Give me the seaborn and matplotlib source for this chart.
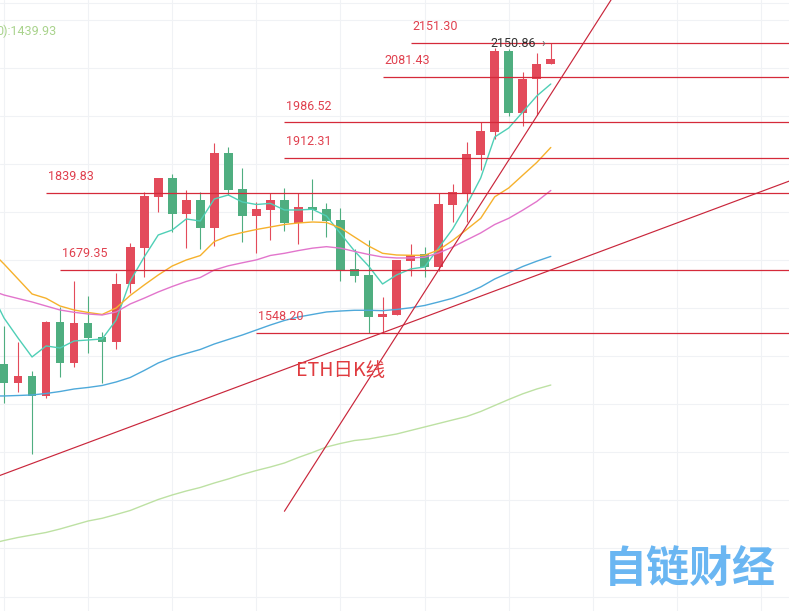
"""
ETH daily candles with moving averages, support/resistance levels and trend lines
"""

import numpy as np
import pandas as pd
import seaborn as sns
import matplotlib.pyplot as plt

# daily OHLC (index 0 = leftmost visible candle)
opens = [1483.7, 1444.8, 1458.8, 1417.8, 1571.1, 1486.4, 1569.6, 1539.9, 1528.9, 1650.1,
         1725.6, 1831.7, 1869.9, 1795.1, 1824.8, 1765.9, 1921.9, 1847.0, 1792.1, 1804.0,
         1824.8, 1776.3, 1809.6, 1805.5, 1783.2, 1681.3, 1668.8, 1582.1, 1585.6, 1698.6,
         1711.9, 1686.1, 1815.4, 1838.7, 1919.2, 1966.8, 2134.7, 2006.4, 2075.8, 2107.0]
highs = [1562.8, 1530.1, 1469.2, 1573.2, 1602.9, 1657.0, 1625.1, 1550.3, 1672.4, 1734.7,
         1842.1, 1869.9, 1878.2, 1845.6, 1842.1, 1942.7, 1934.4, 1890.7, 1820.6, 1838.7,
         1849.1, 1840.0, 1867.8, 1817.9, 1807.5, 1722.9, 1741.6, 1622.4, 1700.0, 1732.7,
         1727.0, 1840.0, 1858.7, 1944.8, 1986.4, 2140.3, 2138.2, 2091.6, 2129.9, 2150.86]
lows = [1402.0, 1426.1, 1295.9, 1412.4, 1457.3, 1476.9, 1507.2, 1443.6, 1514.3, 1630.8,
        1665.3, 1800.5, 1758.9, 1725.6, 1722.3, 1729.1, 1835.2, 1736.4, 1713.5, 1741.6,
        1760.3, 1733.3, 1783.2, 1747.2, 1657.0, 1653.6, 1548.2, 1549.0, 1585.6, 1667.4,
        1663.6, 1677.8, 1779.7, 1778.4, 1886.6, 1951.7, 1999.5, 1978.7, 2001.6, 2107.0]
closes = [1444.8, 1458.8, 1417.8, 1571.1, 1486.4, 1569.6, 1538.4, 1528.9, 1650.1, 1727.7,
          1833.1, 1869.9, 1795.1, 1824.8, 1765.9, 1921.9, 1845.6, 1792.1, 1805.5, 1824.2,
          1776.3, 1809.6, 1804.0, 1781.7, 1679.2, 1667.4, 1582.1, 1587.7, 1700.0, 1710.4,
          1686.1, 1816.5, 1841.0, 1920.5, 1968.3, 2134.7, 2006.4, 2075.8, 2107.6, 2117.4]

# moving averages, starting one candle left of the visible window
ma_idx = list(range(-1, 40))
ma5 = [1637.6, 1579.4, 1537.8, 1498.3, 1521.2, 1517.0, 1531.6, 1533.6, 1535.7, 1575.2,
       1656.3, 1706.2, 1752.0, 1762.4, 1785.3, 1781.1, 1826.9, 1835.2, 1820.6, 1815.4,
       1817.7, 1804.0, 1804.0, 1805.5, 1791.5, 1755.1, 1718.7, 1687.5, 1650.1, 1668.8,
       1681.3, 1685.5, 1725.0, 1764.5, 1814.4, 1870.5, 1955.8, 1974.5, 2007.8, 2041.1,
       2066.0]
ma10 = [1720.8, 1691.7, 1660.5, 1629.3, 1620.4, 1604.3, 1596.0, 1590.8, 1586.7, 1600.2,
        1626.2, 1648.0, 1668.8, 1687.5, 1700.0, 1709.2, 1738.3, 1749.9, 1757.2, 1763.4,
        1768.6, 1773.8, 1777.0, 1779.0, 1778.0, 1766.6, 1747.8, 1729.1, 1713.9, 1710.4,
        1709.8, 1709.8, 1720.8, 1740.6, 1763.4, 1786.7, 1831.4, 1849.8, 1876.4, 1902.8,
        1934.0]
ma20 = [1637.6, 1627.2, 1619.9, 1612.7, 1604.3, 1596.0, 1591.2, 1587.7, 1585.6, 1591.9,
        1608.5, 1620.6, 1633.5, 1644.9, 1655.3, 1663.6, 1679.2, 1687.9, 1694.2, 1700.2,
        1709.4, 1713.9, 1719.6, 1724.6, 1727.7, 1724.6, 1717.9, 1711.5, 1706.2, 1704.2,
        1704.2, 1705.8, 1714.6, 1727.0, 1741.6, 1756.2, 1773.8, 1786.7, 1803.6, 1821.7,
        1844.6]
ma60 = [1417.2, 1417.2, 1418.2, 1419.3, 1422.4, 1426.5, 1431.7, 1434.9, 1439.0, 1446.3,
        1455.6, 1470.2, 1485.8, 1497.2, 1505.6, 1513.9, 1525.3, 1534.7, 1544.0, 1554.4,
        1564.8, 1574.2, 1581.5, 1586.7, 1591.9, 1593.9, 1595.4, 1595.4, 1594.6, 1597.1,
        1600.6, 1605.4, 1612.7, 1620.4, 1631.0, 1643.9, 1660.5, 1673.4, 1686.5, 1697.5,
        1707.5]
ma120 = [1109.4, 1116.6, 1122.9, 1128.1, 1133.3, 1140.6, 1148.9, 1157.2, 1162.8, 1170.7,
         1179.0, 1190.5, 1201.9, 1211.3, 1219.6, 1226.9, 1236.2, 1244.6, 1253.9, 1262.2,
         1269.5, 1277.8, 1289.3, 1299.7, 1311.1, 1318.4, 1324.6, 1327.7, 1332.9, 1338.1,
         1345.4, 1352.7, 1360.0, 1367.3, 1374.5, 1384.9, 1397.4, 1409.9, 1421.7, 1431.7,
         1439.93]

# horizontal levels and the candle where each one starts
levels = [2151.30, 2081.43, 1986.52, 1912.31, 1839.83, 1679.35, 1548.20]
level_start = [29, 27, 20, 20, 3, 4, 18]

# trend lines, two points each (candle index, price)
trend_x = [[-0.3, 56.0], [20.0, 43.3]]
trend_y = [[1251.8, 1864.0], [1177.4, 2241.0]]

RED = "#e34b5b"
GREEN = "#4fae80"
LINE_RED = "#d52a3a"
GRID = "#f0f2f5"

sns.set_theme(style="white")
plt.rcParams["font.family"] = ["Roboto", "Noto Sans CJK SC", "DejaVu Sans"]

fig = plt.figure(figsize=(7.89, 6.11), dpi=100)
ax = fig.add_axes([0, 0, 1, 1])
ax.set_xlim(-0.285, 55.99)
ax.set_ylim(970.0, 2240.7)
ax.axis("off")

# background grid
for gx in range(0, 60, 6):
    ax.axvline(gx, color=GRID, lw=0.8, zorder=0)
for gy in range(1000, 2300, 100):
    ax.axhline(gy, color=GRID, lw=0.8, zorder=0)
ax.axhline(2235.5, color=GRID, lw=0.8, zorder=0)

# candles (red = up, green = down)
candles = pd.DataFrame({"open": opens, "high": highs, "low": lows, "close": closes})
up = candles.close >= candles.open
colors = np.where(up, RED, GREEN)
ax.vlines(candles.index, candles.low, candles.high, colors=colors, lw=0.8, zorder=2)
body_lo = np.minimum(candles.open, candles.close)
body_h = np.maximum((candles.close - candles.open).abs(), 2.0)
ax.bar(candles.index, body_h, bottom=body_lo, width=0.62, color=colors,
       linewidth=0, zorder=2.5)

# moving averages
ma = pd.DataFrame({"idx": ma_idx, "MA5": ma5, "MA10": ma10, "MA20": ma20,
                   "MA60": ma60, "MA120": ma120})
ma_long = ma.melt("idx", var_name="line", value_name="price")
ma_colors = {"MA5": "#4fcfb6", "MA10": "#f6b12c", "MA20": "#e275cc",
             "MA60": "#4ea9da", "MA120": "#bde1a3"}
sns.lineplot(data=ma_long, x="idx", y="price", hue="line", palette=ma_colors,
             lw=1.0, legend=False, ax=ax, zorder=3)
ax.axis("off")

# support / resistance levels
ax.hlines(levels, level_start, 56.5, color=LINE_RED, lw=0.9, zorder=4)
for lv, st in zip(levels, level_start):
    ax.annotate(f"{lv:.2f}", xy=(st, lv), xytext=(2, 16), textcoords="offset pixels",
                ha="left", va="center", fontsize=9, color="#e0404e", zorder=5)

# trend lines
for tx, ty in zip(trend_x, trend_y):
    ax.plot(tx, ty, color="#c9263b", lw=0.85, zorder=4)

# highest price marker
ax.text(37.95, max(highs), f"{max(highs):.2f}", ha="right", va="center",
        fontsize=9, color="#333333", zorder=5)
ax.text(38.6, max(highs), "›", ha="right", va="center",
        fontsize=9, color="#666666", zorder=5)

ax.text(20.8, 1471.0, "ETH日K线", ha="left", va="center", fontsize=14,
        color="#e03b3f", family=["Noto Sans CJK SC", "DejaVu Sans"], zorder=5)

# MA legend fragment at top left (cut by the edge as in the original screenshot)
fig.text(-0.005, 1 - 31 / 611, "0):1439.93", ha="left", va="center",
         fontsize=9, color="#a9d38c")

# watermark
fig.text(690 / 789, 1 - 570 / 611, "自链财经", ha="center", va="center",
         fontsize=31, fontweight="bold", color="#6ab6f2",
         family=["Noto Sans CJK SC", "DejaVu Sans"])

fig.savefig("out.png", dpi=100)
